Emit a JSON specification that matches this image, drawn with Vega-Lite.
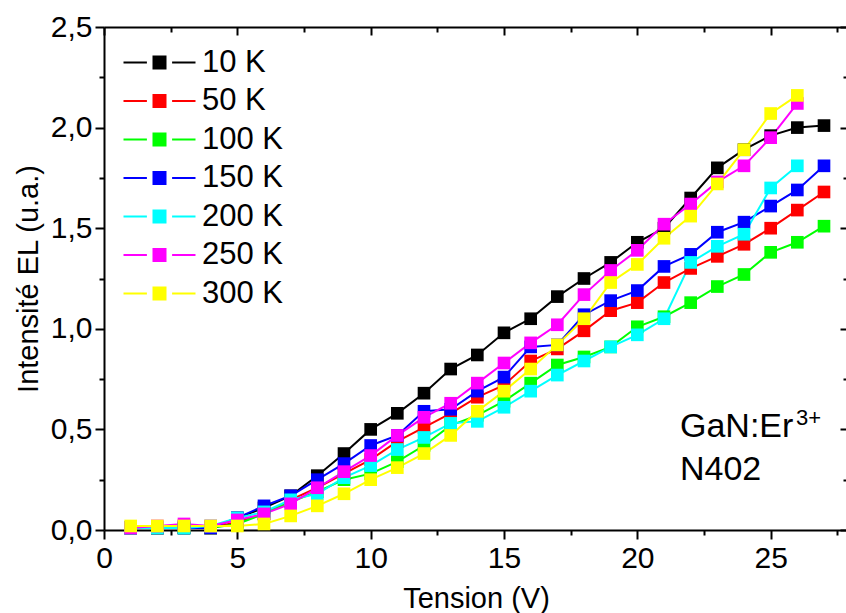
{
  "$schema": "https://vega.github.io/schema/vega-lite/v6.json",
  "width": 744,
  "height": 503,
  "autosize": {"type": "none"},
  "padding": {"left": 104, "top": 27, "right": 0, "bottom": 83},
  "background": "white",
  "config": {
    "view": {"stroke": null},
    "axis": {
      "grid": false,
      "domainColor": "black",
      "domainWidth": 2,
      "tickColor": "black",
      "tickWidth": 2,
      "labelFont": "Liberation Sans",
      "labelFontSize": 30,
      "labelColor": "black",
      "titleFont": "Liberation Sans",
      "titleFontSize": 29,
      "titleFontWeight": "normal",
      "titleColor": "black"
    }
  },
  "datasets": {
    "el": [
      {"V":1,"T":"10 K","I":0.01},{"V":2,"T":"10 K","I":0.01},{"V":3,"T":"10 K","I":0.01},{"V":4,"T":"10 K","I":0.01},{"V":5,"T":"10 K","I":0.06},{"V":6,"T":"10 K","I":0.11},{"V":7,"T":"10 K","I":0.17},{"V":8,"T":"10 K","I":0.27},{"V":9,"T":"10 K","I":0.38},{"V":10,"T":"10 K","I":0.50},{"V":11,"T":"10 K","I":0.58},{"V":12,"T":"10 K","I":0.68},{"V":13,"T":"10 K","I":0.80},{"V":14,"T":"10 K","I":0.87},{"V":15,"T":"10 K","I":0.98},{"V":16,"T":"10 K","I":1.05},{"V":17,"T":"10 K","I":1.16},{"V":18,"T":"10 K","I":1.25},{"V":19,"T":"10 K","I":1.33},{"V":20,"T":"10 K","I":1.43},{"V":21,"T":"10 K","I":1.50},{"V":22,"T":"10 K","I":1.65},{"V":23,"T":"10 K","I":1.80},{"V":24,"T":"10 K","I":1.89},{"V":25,"T":"10 K","I":1.96},{"V":26,"T":"10 K","I":2.00},{"V":27,"T":"10 K","I":2.01},
      {"V":1,"T":"50 K","I":0.01},{"V":2,"T":"50 K","I":0.01},{"V":3,"T":"50 K","I":0.02},{"V":4,"T":"50 K","I":0.01},{"V":5,"T":"50 K","I":0.04},{"V":6,"T":"50 K","I":0.08},{"V":7,"T":"50 K","I":0.15},{"V":8,"T":"50 K","I":0.21},{"V":9,"T":"50 K","I":0.28},{"V":10,"T":"50 K","I":0.35},{"V":11,"T":"50 K","I":0.44},{"V":12,"T":"50 K","I":0.51},{"V":13,"T":"50 K","I":0.58},{"V":14,"T":"50 K","I":0.66},{"V":15,"T":"50 K","I":0.72},{"V":16,"T":"50 K","I":0.84},{"V":17,"T":"50 K","I":0.90},{"V":18,"T":"50 K","I":0.99},{"V":19,"T":"50 K","I":1.09},{"V":20,"T":"50 K","I":1.13},{"V":21,"T":"50 K","I":1.23},{"V":22,"T":"50 K","I":1.30},{"V":23,"T":"50 K","I":1.36},{"V":24,"T":"50 K","I":1.42},{"V":25,"T":"50 K","I":1.50},{"V":26,"T":"50 K","I":1.59},{"V":27,"T":"50 K","I":1.68},
      {"V":1,"T":"100 K","I":0.01},{"V":2,"T":"100 K","I":0.01},{"V":3,"T":"100 K","I":0.01},{"V":4,"T":"100 K","I":0.01},{"V":5,"T":"100 K","I":0.03},{"V":6,"T":"100 K","I":0.08},{"V":7,"T":"100 K","I":0.14},{"V":8,"T":"100 K","I":0.19},{"V":9,"T":"100 K","I":0.25},{"V":10,"T":"100 K","I":0.28},{"V":11,"T":"100 K","I":0.34},{"V":12,"T":"100 K","I":0.42},{"V":13,"T":"100 K","I":0.52},{"V":14,"T":"100 K","I":0.57},{"V":15,"T":"100 K","I":0.64},{"V":16,"T":"100 K","I":0.73},{"V":17,"T":"100 K","I":0.82},{"V":18,"T":"100 K","I":0.86},{"V":19,"T":"100 K","I":0.91},{"V":20,"T":"100 K","I":1.01},{"V":21,"T":"100 K","I":1.06},{"V":22,"T":"100 K","I":1.13},{"V":23,"T":"100 K","I":1.21},{"V":24,"T":"100 K","I":1.27},{"V":25,"T":"100 K","I":1.38},{"V":26,"T":"100 K","I":1.43},{"V":27,"T":"100 K","I":1.51},
      {"V":1,"T":"150 K","I":0.01},{"V":2,"T":"150 K","I":0.01},{"V":3,"T":"150 K","I":0.01},{"V":4,"T":"150 K","I":0.01},{"V":5,"T":"150 K","I":0.06},{"V":6,"T":"150 K","I":0.12},{"V":7,"T":"150 K","I":0.17},{"V":8,"T":"150 K","I":0.25},{"V":9,"T":"150 K","I":0.33},{"V":10,"T":"150 K","I":0.42},{"V":11,"T":"150 K","I":0.47},{"V":12,"T":"150 K","I":0.59},{"V":13,"T":"150 K","I":0.60},{"V":14,"T":"150 K","I":0.69},{"V":15,"T":"150 K","I":0.76},{"V":16,"T":"150 K","I":0.91},{"V":17,"T":"150 K","I":0.92},{"V":18,"T":"150 K","I":1.07},{"V":19,"T":"150 K","I":1.14},{"V":20,"T":"150 K","I":1.19},{"V":21,"T":"150 K","I":1.31},{"V":22,"T":"150 K","I":1.37},{"V":23,"T":"150 K","I":1.48},{"V":24,"T":"150 K","I":1.53},{"V":25,"T":"150 K","I":1.61},{"V":26,"T":"150 K","I":1.69},{"V":27,"T":"150 K","I":1.81},
      {"V":1,"T":"200 K","I":0.01},{"V":2,"T":"200 K","I":0.01},{"V":3,"T":"200 K","I":0.01},{"V":4,"T":"200 K","I":0.02},{"V":5,"T":"200 K","I":0.06},{"V":6,"T":"200 K","I":0.09},{"V":7,"T":"200 K","I":0.15},{"V":8,"T":"200 K","I":0.18},{"V":9,"T":"200 K","I":0.26},{"V":10,"T":"200 K","I":0.32},{"V":11,"T":"200 K","I":0.40},{"V":12,"T":"200 K","I":0.46},{"V":13,"T":"200 K","I":0.53},{"V":14,"T":"200 K","I":0.54},{"V":15,"T":"200 K","I":0.61},{"V":16,"T":"200 K","I":0.69},{"V":17,"T":"200 K","I":0.77},{"V":18,"T":"200 K","I":0.84},{"V":19,"T":"200 K","I":0.91},{"V":20,"T":"200 K","I":0.97},{"V":21,"T":"200 K","I":1.05},{"V":22,"T":"200 K","I":1.33},{"V":23,"T":"200 K","I":1.41},{"V":24,"T":"200 K","I":1.47},{"V":25,"T":"200 K","I":1.70},{"V":26,"T":"200 K","I":1.81},
      {"V":1,"T":"250 K","I":0.01},{"V":2,"T":"250 K","I":0.02},{"V":3,"T":"250 K","I":0.03},{"V":4,"T":"250 K","I":0.02},{"V":5,"T":"250 K","I":0.05},{"V":6,"T":"250 K","I":0.08},{"V":7,"T":"250 K","I":0.13},{"V":8,"T":"250 K","I":0.21},{"V":9,"T":"250 K","I":0.29},{"V":10,"T":"250 K","I":0.37},{"V":11,"T":"250 K","I":0.47},{"V":12,"T":"250 K","I":0.56},{"V":13,"T":"250 K","I":0.63},{"V":14,"T":"250 K","I":0.73},{"V":15,"T":"250 K","I":0.83},{"V":16,"T":"250 K","I":0.93},{"V":17,"T":"250 K","I":1.02},{"V":18,"T":"250 K","I":1.17},{"V":19,"T":"250 K","I":1.29},{"V":20,"T":"250 K","I":1.39},{"V":21,"T":"250 K","I":1.52},{"V":22,"T":"250 K","I":1.62},{"V":23,"T":"250 K","I":1.73},{"V":24,"T":"250 K","I":1.81},{"V":25,"T":"250 K","I":1.95},{"V":26,"T":"250 K","I":2.12},
      {"V":1,"T":"300 K","I":0.02},{"V":2,"T":"300 K","I":0.02},{"V":3,"T":"300 K","I":0.02},{"V":4,"T":"300 K","I":0.02},{"V":5,"T":"300 K","I":0.02},{"V":6,"T":"300 K","I":0.03},{"V":7,"T":"300 K","I":0.07},{"V":8,"T":"300 K","I":0.12},{"V":9,"T":"300 K","I":0.18},{"V":10,"T":"300 K","I":0.25},{"V":11,"T":"300 K","I":0.31},{"V":12,"T":"300 K","I":0.38},{"V":13,"T":"300 K","I":0.47},{"V":14,"T":"300 K","I":0.59},{"V":15,"T":"300 K","I":0.69},{"V":16,"T":"300 K","I":0.80},{"V":17,"T":"300 K","I":0.92},{"V":18,"T":"300 K","I":1.05},{"V":19,"T":"300 K","I":1.23},{"V":20,"T":"300 K","I":1.32},{"V":21,"T":"300 K","I":1.45},{"V":22,"T":"300 K","I":1.56},{"V":23,"T":"300 K","I":1.72},{"V":24,"T":"300 K","I":1.89},{"V":25,"T":"300 K","I":2.07},{"V":26,"T":"300 K","I":2.16}
    ],
    "label": [{"name": "GaN:Er3+ N402"}]
  },
  "resolve": {"axis": {"x": "independent", "y": "independent"}},
  "layer": [
    {
      "data": {"name": "el"},
      "mark": {"type": "line", "strokeWidth": 2},
      "encoding": {
        "x": {
          "field": "V", "type": "quantitative",
          "scale": {"domain": [0, 27.9], "nice": false, "zero": false},
          "axis": {
            "orient": "bottom",
            "title": "Tension (V)",
            "titlePadding": 11,
            "values": [0, 2.5, 5, 7.5, 10, 12.5, 15, 17.5, 20, 22.5, 25, 27.5],
            "labelExpr": "datum.value % 5 === 0 ? format(datum.value, 'd') : ''",
            "labelPadding": 4,
            "labelFlush": false,
            "labelOverlap": false,
            "tickSize": {"condition": {"test": "datum.value % 5 === 0", "value": 9}, "value": 5}
          }
        },
        "y": {
          "field": "I", "type": "quantitative",
          "scale": {"domain": [0, 2.5], "nice": false, "zero": false},
          "axis": {
            "orient": "left",
            "title": "Intensité EL (u.a.)",
            "titlePadding": 7,
            "values": [0, 0.25, 0.5, 0.75, 1, 1.25, 1.5, 1.75, 2, 2.25, 2.5],
            "labelExpr": "abs(datum.value * 2 - round(datum.value * 2)) < 0.001 ? replace(format(datum.value, '.1f'), '.', ',') : ''",
            "labelPadding": 3,
            "labelFlush": false,
            "labelOverlap": false,
            "tickSize": {"condition": {"test": "abs(datum.value * 2 - round(datum.value * 2)) < 0.001", "value": 9}, "value": 5}
          }
        },
        "color": {
          "field": "T", "type": "nominal",
          "scale": {
            "domain": ["10 K", "50 K", "100 K", "150 K", "200 K", "250 K", "300 K"],
            "range": ["#000000", "#ff0000", "#00ff00", "#0000ff", "#00ffff", "#ff00ff", "#ffff00"]
          },
          "legend": {
            "orient": "none",
            "legendX": 40,
            "legendY": 20,
            "title": null,
            "labelFont": "Liberation Sans",
            "labelFontSize": 31,
            "labelColor": "black",
            "labelOffset": 27,
            "rowPadding": 6.5,
            "symbolType": "M-3,0H-1.05M1.05,0H3M-0.5,-0.5H0.5V0.5H-0.5Z",
            "symbolSize": 576,
            "symbolStrokeWidth": 2,
            "encode": {
              "symbols": {
                "update": {
                  "fill": {"scale": "color", "field": "value"},
                  "stroke": {"scale": "color", "field": "value"},
                  "strokeWidth": {"value": 2},
                  "shape": {"value": "M-3,0H-1.05M1.05,0H3M-0.5,-0.5H0.5V0.5H-0.5Z"},
                  "size": {"value": 576},
                  "opacity": {"value": 1}
                }
              }
            }
          }
        }
      }
    },
    {
      "data": {"name": "el"},
      "mark": {"type": "point", "shape": "square", "filled": true, "size": 160, "opacity": 1, "strokeWidth": 0},
      "encoding": {
        "x": {
          "field": "V", "type": "quantitative",
          "axis": {
            "orient": "top",
            "title": null,
            "labels": false,
            "values": [0, 2.5, 5, 7.5, 10, 12.5, 15, 17.5, 20, 22.5, 25, 27.5],
            "tickSize": {"condition": {"test": "datum.value % 5 === 0", "value": -8}, "value": -5}
          }
        },
        "y": {
          "field": "I", "type": "quantitative",
          "axis": {
            "orient": "right",
            "title": null,
            "labels": false,
            "values": [0, 0.25, 0.5, 0.75, 1, 1.25, 1.5, 1.75, 2, 2.25, 2.5],
            "tickSize": {"condition": {"test": "abs(datum.value * 2 - round(datum.value * 2)) < 0.001", "value": -8}, "value": -5}
          }
        },
        "color": {"field": "T", "type": "nominal"}
      }
    },
    {
      "data": {"name": "label"},
      "mark": {"type": "text", "text": "GaN:Er", "align": "left", "baseline": "alphabetic", "font": "Liberation Sans", "fontSize": 34, "color": "black"},
      "encoding": {"x": {"datum": 21.6, "type": "quantitative", "axis": null}, "y": {"datum": 0.464, "type": "quantitative", "axis": null}}
    },
    {
      "data": {"name": "label"},
      "mark": {"type": "text", "text": "3+", "align": "left", "baseline": "alphabetic", "font": "Liberation Sans", "fontSize": 22, "color": "black"},
      "encoding": {"x": {"datum": 25.95, "type": "quantitative", "axis": null}, "y": {"datum": 0.52, "type": "quantitative", "axis": null}}
    },
    {
      "data": {"name": "label"},
      "mark": {"type": "text", "text": "N402", "align": "left", "baseline": "alphabetic", "font": "Liberation Sans", "fontSize": 34, "color": "black"},
      "encoding": {"x": {"datum": 21.6, "type": "quantitative", "axis": null}, "y": {"datum": 0.249, "type": "quantitative", "axis": null}}
    }
  ]
}
